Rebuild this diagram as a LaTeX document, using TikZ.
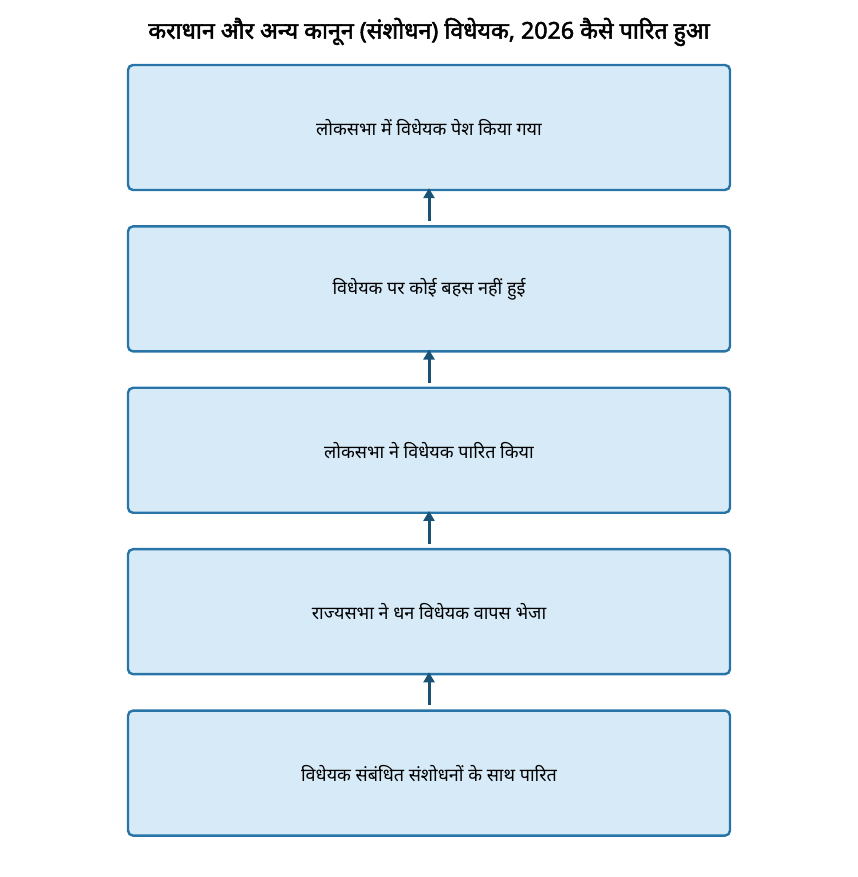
\documentclass[tikz,border=0pt]{standalone}
\usepackage{fontspec}
\setmainfont[Script=Devanagari]{Noto Sans}
\newfontfamily\titlefont[Script=Devanagari, FakeBold=2.2]{Noto Sans}
\usetikzlibrary{positioning,arrows.meta}
\definecolor{boxfill}{HTML}{D6EAF8}
\definecolor{boxline}{HTML}{2874A6}
\definecolor{arrowcol}{HTML}{1A5276}
\tikzset{
  stepbox/.style={draw=boxline, fill=boxfill, line width=2.4pt, rounded corners=5pt,
    minimum width=602pt, minimum height=125pt, font=\fontsize{18}{20}\selectfont},
  uparrow/.style={draw=arrowcol, line width=3pt, -{Triangle[length=10pt,width=11pt]}}
}
\begin{document}
\begin{tikzpicture}[x=1pt,y=1pt]
    % Margen
    \useasboundingbox (0,0) rectangle (858,877);

    % Titulo
    \node[font=\fontsize{23.2}{26}\titlefont] (titulo) at (429,845) {कराधान और अन्य कानून (संशोधन) विधेयक, 2026 कैसे पारित हुआ};

    % Cajas
    \node[stepbox] (b1) at (429,749.5) {लोकसभा में विधेयक पेश किया गया};
    \node[stepbox, below=34pt of b1] (b2) {विधेयक पर कोई बहस नहीं हुई};
    \node[stepbox, below=34pt of b2] (b3) {लोकसभा ने विधेयक पारित किया};
    \node[stepbox, below=34pt of b3] (b4) {राज्यसभा ने धन विधेयक वापस भेजा};
    \node[stepbox, below=34pt of b4] (b5) {विधेयक संबंधित संशोधनों के साथ पारित};

    % Flechas
    \foreach \a/\b in {b2/b1, b3/b2, b4/b3, b5/b4}
        \draw[uparrow] ([yshift=4pt]\a.north) -- ([yshift=3pt]\b.south);
\end{tikzpicture}
\end{document}
